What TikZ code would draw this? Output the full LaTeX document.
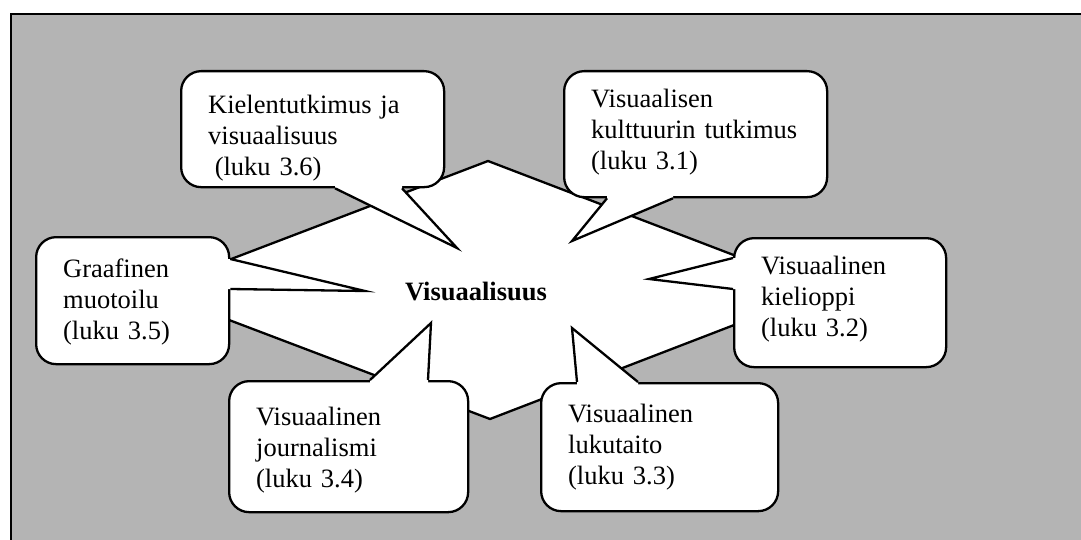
\documentclass[tikz,border=0pt]{standalone}
\usepackage{fontspec}
\setmainfont{Liberation Serif}
\usetikzlibrary{calc}
\definecolor{panelgray}{RGB}{180,180,180}
\begin{document}
\begin{tikzpicture}[x=0.5pt,y=-0.5pt,
  outline/.style={line width=1.15pt,draw=black},
  callout/.style={outline,fill=white,rounded corners=10pt,anchor=north west,
    inner xsep=13.5pt,inner ysep=0pt,align=left,
    font=\fontsize{13.25pt}{15.5pt}\selectfont},
  cover/.style={fill=white}]
% page and grey panel
\useasboundingbox (0,0) rectangle (1081,540);
\begin{scope}
  \clip (0,0) rectangle (1081,540);
  \draw[line width=1pt,fill=panelgray] (11,14) rectangle (1100,560);
\end{scope}
% central diamond
\draw[outline,fill=white] (488,161) -- (825,290) -- (490,419) -- (150,290) -- cycle;
\node[font=\bfseries\fontsize{13.25pt}{15.5pt}\selectfont,anchor=base] (vis) at (476,300) {Visuaalisuus};

% callouts
\node[callout,text width=104.5pt,text height=21pt,text depth=37pt] (k1) at (180,70)
  {Kielentutkimus ja\\visuaalisuus\\\hspace*{0.25em}(luku 3.6)};
\node[callout,text width=104.5pt,text height=18pt,text depth=45pt] (k2) at (563,70)
  {Visuaalisen\\kulttuurin tutkimus\\(luku 3.1)};
\node[callout,text width=69.5pt,text height=20pt,text depth=43.5pt] (k3) at (35,236)
  {Graafinen\\muotoilu\\(luku 3.5)};
\node[callout,text width=79pt,text height=18pt,text depth=46.5pt] (k4) at (733,237)
  {Visuaalinen\\kielioppi\\(luku 3.2)};
\node[callout,text width=92.5pt,text height=22pt,text depth=43.5pt] (k5) at (228,380)
  {Visuaalinen\\journalismi\\(luku 3.4)};
\node[callout,text width=91.5pt,text height=19.5pt,text depth=44.5pt] (k6) at (540,382)
  {Visuaalinen\\lukutaito\\(luku 3.3)};

% pointer tips
\coordinate (t1) at (457,248);
\coordinate (t2) at (572,241);
\coordinate (t3) at (365,291);
\coordinate (t4) at (649,279);
\coordinate (t5) at (431,323);
\coordinate (t6) at (572,328);

% pointer bases on the box edges
\coordinate (a1) at ($(k1.south west)+(155,0)$);
\coordinate (b1) at ($(k1.south west)+(222,0)$);
\coordinate (a2) at ($(k2.south west)+(44,0)$);
\coordinate (b2) at ($(k2.south west)+(110,0)$);
\coordinate (a3) at ($(k3.north east)+(0,23)$);
\coordinate (b3) at ($(k3.north east)+(0,53)$);
\coordinate (a4) at ($(k4.north west)+(0,21)$);
\coordinate (b4) at ($(k4.north west)+(0,52)$);
\coordinate (a5) at ($(k5.north west)+(142,0)$);
\coordinate (b5) at ($(k5.north west)+(200,0)$);
\coordinate (a6) at ($(k6.north west)+(37,0)$);
\coordinate (b6) at ($(k6.north west)+(98,0)$);

% pointers: white wedge over the box edge, then its two sides
\fill[cover] (a1) -- (t1) -- (b1) -- ++(0,-4) -- ($(a1)+(0,-4)$) -- cycle;
\draw[outline] (a1) -- (t1) -- (b1);
\fill[cover] (a2) -- (t2) -- (b2) -- ++(0,-4) -- ($(a2)+(0,-4)$) -- cycle;
\draw[outline] (a2) -- (t2) -- (b2);
\fill[cover] (a3) -- (t3) -- (b3) -- ++(-4,0) -- ($(a3)+(-4,0)$) -- cycle;
\draw[outline] (a3) -- (t3) -- (b3);
\fill[cover] (a4) -- (t4) -- (b4) -- ++(4,0) -- ($(a4)+(4,0)$) -- cycle;
\draw[outline] (a4) -- (t4) -- (b4);
\fill[cover] (a5) -- (t5) -- (b5) -- ++(0,4) -- ($(a5)+(0,4)$) -- cycle;
\draw[outline] (a5) -- (t5) -- (b5);
\fill[cover] (a6) -- (t6) -- (b6) -- ++(0,4) -- ($(a6)+(0,4)$) -- cycle;
\draw[outline] (a6) -- (t6) -- (b6);
\end{tikzpicture}
\end{document}
